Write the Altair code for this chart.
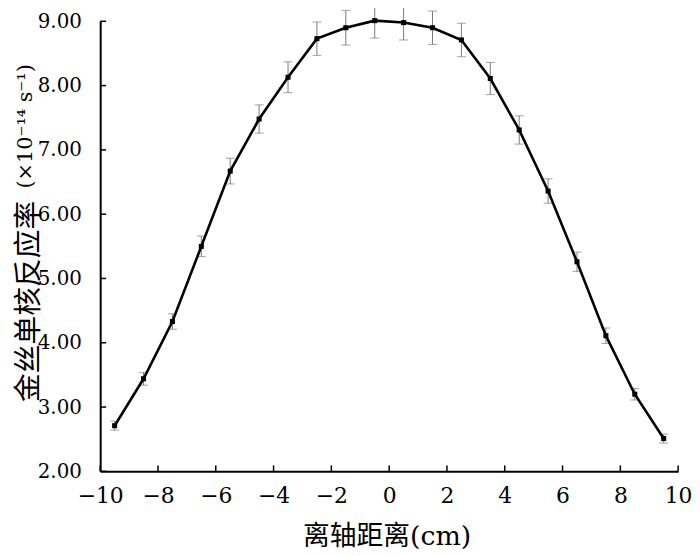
import altair as alt
import pandas as pd

# Data
x_pos = [-9.5, -8.5, -7.5, -6.5, -5.5, -4.5, -3.5, -2.5, -1.5, -0.5,
         0.5, 1.5, 2.5, 3.5, 4.5, 5.5, 6.5, 7.5, 8.5, 9.5]
rate = [2.71, 3.44, 4.33, 5.50, 6.67, 7.48, 8.13, 8.73, 8.90, 9.01,
        8.98, 8.90, 8.71, 8.11, 7.31, 6.36, 5.26, 4.11, 3.20, 2.51]
err = [0.07, 0.10, 0.12, 0.16, 0.20, 0.22, 0.24, 0.26, 0.27, 0.27,
       0.27, 0.26, 0.26, 0.25, 0.22, 0.19, 0.15, 0.12, 0.09, 0.07]
x_ticks = [-10, -8, -6, -4, -2, 0, 2, 4, 6, 8, 10]
y_ticks = [2, 3, 4, 5, 6, 7, 8, 9]

x_title = "离轴距离(cm)"
y_title_cjk = "金丝单核反应率"
y_title_unit = ["(×10⁻¹⁴ s⁻¹)"]

df = pd.DataFrame({"x": x_pos, "y": rate, "e": err})
df["lo"] = df["y"] - df["e"]
df["hi"] = df["y"] + df["e"]

W, H = 583, 454
SERIF = "DejaVu Serif, Noto Sans CJK SC"
CJK = "Noto Sans CJK SC"

xs = alt.Scale(domain=[-10, 10], nice=False, zero=False)
ys = alt.Scale(domain=[2, 9], nice=False, zero=False)

x_axis = alt.Axis(values=x_ticks, format="d", title=x_title, ticks=False, tickSize=0,
                  labelPadding=14, labelFontSize=22, titleFontSize=27,
                  labelFlush=False, labelOverlap=False,
                  labelFont=SERIF, titleFont=SERIF,
                  titleX=289, titleY=66, titleBaseline="middle", titleAlign="center")
y_axis = alt.Axis(values=y_ticks, format=".2f", title=y_title_cjk, ticks=False, tickSize=0,
                  labelPadding=19, labelFontSize=20, labelFlush=False, labelOverlap=False,
                  labelFont=SERIF, titleFont=CJK, titleFontSize=29,
                  titleX=-72, titleY=282,
                  titleAlign="center", titleBaseline="middle", titleAngle=-90)

base = alt.Chart(df)

err_rule = base.mark_rule(color="#7a7a7a", strokeWidth=1).encode(
    x=alt.X("x:Q", scale=xs, axis=x_axis),
    y=alt.Y("lo:Q", scale=ys, axis=y_axis),
    y2="hi:Q",
)
cap_lo = base.mark_tick(color="#7a7a7a", orient="horizontal", size=9, thickness=1).encode(
    x=alt.X("x:Q", scale=xs), y=alt.Y("lo:Q", scale=ys)
)
cap_hi = base.mark_tick(color="#7a7a7a", orient="horizontal", size=9, thickness=1).encode(
    x=alt.X("x:Q", scale=xs), y=alt.Y("hi:Q", scale=ys)
)
line = base.mark_line(color="black", strokeWidth=2.6).encode(
    x=alt.X("x:Q", scale=xs), y=alt.Y("y:Q", scale=ys)
)
pts = base.mark_square(color="black", size=26, opacity=1).encode(
    x=alt.X("x:Q", scale=xs), y=alt.Y("y:Q", scale=ys)
)

xt = alt.Chart(pd.DataFrame({"t": x_ticks})).mark_rule(color="black", strokeWidth=1.5).encode(
    x=alt.X("t:Q", scale=xs), y=alt.value(H), y2=alt.value(H - 6)
)
yt = alt.Chart(pd.DataFrame({"t": y_ticks})).mark_rule(color="black", strokeWidth=1.5).encode(
    y=alt.Y("t:Q", scale=ys), x=alt.value(0), x2=alt.value(6)
)

unit = alt.Chart(pd.DataFrame({"u": y_title_unit})).mark_text(
    angle=270, font=SERIF, fontSize=21, color="black", align="center", baseline="middle"
).encode(text="u:N", x=alt.value(-75), y=alt.value(106))

chart = alt.layer(err_rule, cap_lo, cap_hi, line, pts, xt, yt, unit).properties(
    width=W, height=H,
    autosize=alt.AutoSizeParams(type="none"),
    padding={"left": 93, "top": 11, "right": 14, "bottom": 86},
).configure_view(stroke=None).configure_axis(
    grid=False, domainColor="black", domainWidth=2,
    labelColor="black", titleColor="black", titleFontWeight="normal",
)

chart.save("out.html", embed_options={"renderer": "svg", "actions": False})
